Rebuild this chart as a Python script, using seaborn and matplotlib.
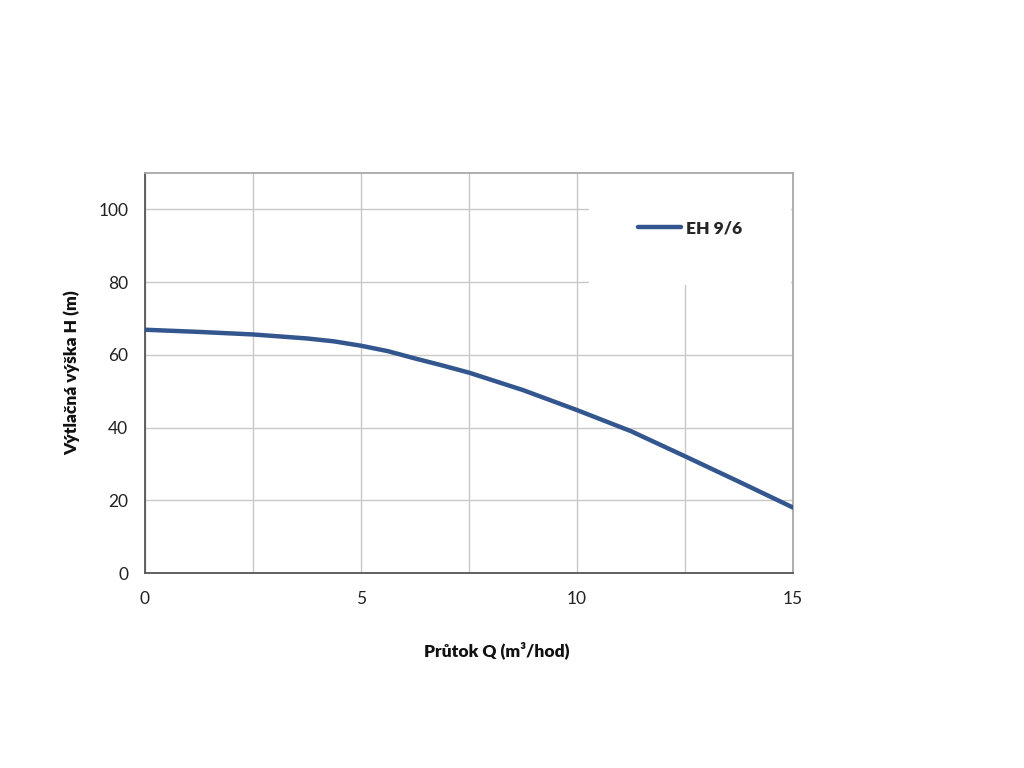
import numpy as np
import pandas as pd
import matplotlib
matplotlib.use("Agg")
import matplotlib.pyplot as plt
import seaborn as sns

# pump curve
flow = [0, 1.25, 2.5, 3.75, 4.375, 5, 5.625, 6.25, 6.875, 7.5, 8.75, 10, 11.25, 12.5, 13.75, 15]
head = [66.9, 66.3, 65.6, 64.5, 63.7, 62.5, 61.0, 59.0, 57.1, 55.1, 50.3, 44.8, 39.0, 32.1, 25.1, 18.0]
series_name = 'EH 9/6'

x_ticks = [0, 5, 10, 15]
y_ticks = [0, 20, 40, 60, 80, 100]

df = pd.DataFrame({'Q': flow, 'H': head, 'pump': series_name})

sns.set_theme(style="whitegrid")
plt.rcParams['font.family'] = ['Lato', 'DejaVu Sans']

fig = plt.figure(figsize=(10.24, 7.68), dpi=100)
ax = fig.add_axes([145 / 1024, 1 - 573 / 768, (793 - 145) / 1024, (573 - 173) / 768])

sns.lineplot(data=df, x='Q', y='H', hue='pump', palette=['#34568e'],
             linewidth=3.2, ax=ax, zorder=3)
ax.get_lines()[0].set_solid_joinstyle('round')

ax.set_xlim(0, 15)
ax.set_ylim(0, 110)
grid_x = np.arange(0, 15.1, 2.5)
ax.set_xticks(grid_x)
ax.set_xticklabels([str(int(t)) if t in x_ticks else '' for t in grid_x])
ax.set_yticks(y_ticks)
ax.tick_params(axis='both', labelsize=12.5, colors='#222222', length=0, pad=12)
ax.tick_params(axis='x', pad=13)

ax.grid(True, color='#c8c8c8', linewidth=1)
ax.set_facecolor('white')
for side in ['top', 'right']:
    ax.spines[side].set_color('#a8a8a8')
    ax.spines[side].set_linewidth(1.3)
for side in ['left', 'bottom']:
    ax.spines[side].set_color('#555555')
    ax.spines[side].set_linewidth(1.3)

ax.set_xlabel('Průtok Q (m³/hod)', fontsize=12.5, fontweight='heavy', color='#111111')
ax.set_ylabel('Výtlačná výška H (m)', fontsize=12.5, fontweight='heavy', color='#111111')
ax.xaxis.set_label_coords((497 - 145) / (793 - 145), -(641 - 573) / 400)
ax.yaxis.set_label_coords(-(145 - 80) / 648, 0.5)

leg = ax.legend(loc='center', bbox_to_anchor=((690 - 145) / 648, (573 - 228) / 400),
                frameon=True, facecolor='white', edgecolor='none', framealpha=1,
                borderpad=2.8, handlelength=2.5, handletextpad=0.3,
                prop={'weight': 'heavy', 'size': 12.5})
leg.get_frame().set_boxstyle('square', pad=0)
leg.set_zorder(2)
for line in leg.get_lines():
    line.set_linewidth(3.2)
    line.set_solid_capstyle('round')

fig.savefig('out.png', dpi=100, facecolor='white')
